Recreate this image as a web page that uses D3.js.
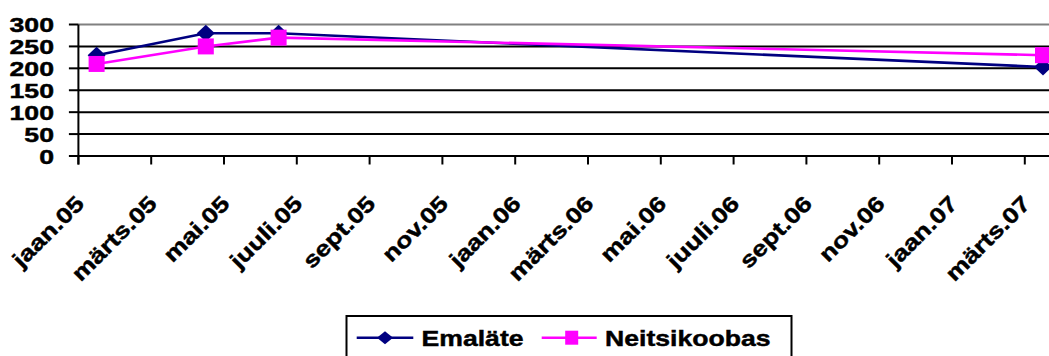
<!DOCTYPE html>
<html>
<head>
<meta charset="utf-8">
<script src="https://cdn.jsdelivr.net/npm/d3@7"></script>
<style>
html,body{margin:0;padding:0;background:#fff;}
svg{display:block;}
text{font-family:"Liberation Sans",Arial,sans-serif;font-weight:bold;fill:#000;stroke:#000;stroke-width:0.45px;}
</style>
</head>
<body>
<svg id="chart" width="1049" height="356"></svg>
<script>
// ---- data ----
const dates = ["2005-01", "2005-04", "2005-06", "2007-03"];
const emalate = [230, 280, 280, 203];
const neitsikoobas = [210, 250, 270, 230];
const tickLabels = ["jaan.05","märts.05","mai.05","juuli.05","sept.05","nov.05",
  "jaan.06","märts.06","mai.06","juuli.06","sept.06","nov.06","jaan.07","märts.07"];
const yTicks = [0, 50, 100, 150, 200, 250, 300];
const seriesNames = ["Emaläte", "Neitsikoobas"];

// ---- layout ----
const svg = d3.select("#chart");
const W = 1049, H = 356;
const left = 78.4, monthW = 36.4, nMonths = 27;
const yTop = 24.5, yBot = 156;
const SX = 1.21, FS = 22;

const monthIndex = s => {
  const [y, m] = s.split("-").map(Number);
  return (y - 2005) * 12 + (m - 1);
};

const x = d3.scaleLinear().domain([0, nMonths]).range([left, left + nMonths * monthW]);
const y = d3.scaleLinear().domain([0, 300]).range([yBot, yTop]);

svg.append("rect").attr("width", W).attr("height", H).attr("fill", "#fff");

// gridlines
svg.append("g").selectAll("line").data(yTicks).join("line")
  .attr("x1", left).attr("x2", W + 20)
  .attr("y1", d => y(d)).attr("y2", d => y(d))
  .attr("stroke", d => d === 300 ? "#808080" : "#000")
  .attr("stroke-width", 2);

// y axis
svg.append("line").attr("x1", left).attr("x2", left)
  .attr("y1", y(300)).attr("y2", y(0) + 8.5)
  .attr("stroke", "#000").attr("stroke-width", 2);
svg.append("g").selectAll("line").data(yTicks).join("line")
  .attr("x1", left - 9.5).attr("x2", left)
  .attr("y1", d => y(d)).attr("y2", d => y(d))
  .attr("stroke", "#000").attr("stroke-width", 2);
svg.append("g").selectAll("text").data(yTicks).join("text")
  .attr("transform", d => `translate(54,${y(d)}) scale(1.27,1)`)
  .attr("text-anchor", "end").attr("dy", "0.36em")
  .attr("font-size", 21).text(d => d);

// x axis ticks
const tickIdx = tickLabels.map((_, i) => i * 2);
svg.append("g").selectAll("line").data(tickIdx).join("line")
  .attr("x1", d => x(d)).attr("x2", d => x(d))
  .attr("y1", y(0)).attr("y2", y(0) + 8.5)
  .attr("stroke", "#000").attr("stroke-width", 2);
svg.append("g").selectAll("text").data(tickLabels).join("text")
  .attr("transform", (d, i) => `translate(${x(i * 2) + 7},205) rotate(-45) scale(${SX},1)`)
  .attr("text-anchor", "end")
  .attr("font-size", FS).text(d => d);

// series
const pts = vals => vals.map((v, i) => ({ m: monthIndex(dates[i]) + 0.5, v }));
const line = d3.line().x(d => x(d.m)).y(d => y(d.v));
const diamond = (cx, cy, hw, hh) => `M${cx},${cy - hh}L${cx + hw},${cy}L${cx},${cy + hh}L${cx - hw},${cy}Z`;

const e = pts(emalate), n = pts(neitsikoobas);
svg.append("path").datum(e).attr("d", line).attr("fill", "none")
  .attr("stroke", "#000080").attr("stroke-width", 2.6);
svg.append("g").selectAll("path").data(e).join("path")
  .attr("d", d => diamond(x(d.m), y(d.v), 9, 8.5)).attr("fill", "#000080");

svg.append("path").datum(n).attr("d", line).attr("fill", "none")
  .attr("stroke", "#FF00FF").attr("stroke-width", 2.6);
svg.append("g").selectAll("rect").data(n).join("rect")
  .attr("x", d => x(d.m) - 8).attr("y", d => y(d.v) - 8)
  .attr("width", 16).attr("height", 16).attr("fill", "#FF00FF");

// legend
const lg = svg.append("g");
lg.append("rect").attr("x", 346.5).attr("y", 316).attr("width", 445).attr("height", 60)
  .attr("fill", "#fff").attr("stroke", "#000").attr("stroke-width", 2);
const ly = 337.7;
lg.append("line").attr("x1", 356.7).attr("x2", 413.3).attr("y1", ly).attr("y2", ly)
  .attr("stroke", "#000080").attr("stroke-width", 2.6);
lg.append("path").attr("d", diamond(385, ly, 8, 6.5)).attr("fill", "#000080");
lg.append("text").attr("transform", `translate(421.5,346) scale(${SX},1)`)
  .attr("font-size", FS).text(seriesNames[0]);
lg.append("line").attr("x1", 541.7).attr("x2", 596.7).attr("y1", ly).attr("y2", ly)
  .attr("stroke", "#FF00FF").attr("stroke-width", 2.6);
lg.append("rect").attr("x", 571.7 - 6.5).attr("y", ly - 7).attr("width", 13).attr("height", 14)
  .attr("fill", "#FF00FF");
lg.append("text").attr("transform", `translate(605,346) scale(${SX},1)`)
  .attr("font-size", FS).text(seriesNames[1]);
</script>
</body>
</html>
